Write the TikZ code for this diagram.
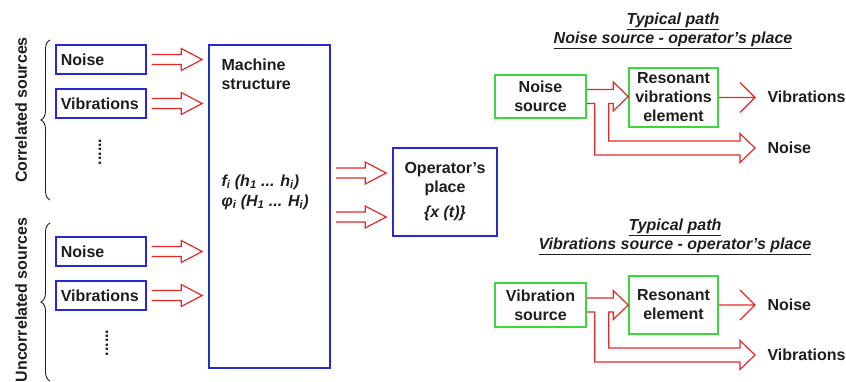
\documentclass[tikz,border=0pt]{standalone}
\usepackage{fontspec}
\setmainfont{Liberation Sans}
\usepackage{tikz}
\usetikzlibrary{positioning}
\usetikzlibrary{%
  calc,%
  decorations.pathreplacing%
}
\definecolor{srcblue}{RGB}{40,40,215}
\definecolor{srcgreen}{RGB}{60,215,60}
\definecolor{arrowred}{RGB}{230,40,40}
\definecolor{txt}{RGB}{30,30,30}
\tikzset{
  every node/.style={font=\bfseries\fontsize{16}{19}\selectfont, text=txt},
  src/.style={draw=srcblue, line width=1.6pt, anchor=west, align=left,
    text width=80pt, inner xsep=5pt, inner ysep=0pt, minimum height=29pt},
  blk/.style={draw=srcblue, line width=1.6pt},
  gbox/.style={draw=srcgreen, line width=1.6pt, align=center, inner sep=0pt},
  hollow/.style={draw=arrowred, line width=1.2pt, line join=miter},
  title/.style={align=center, font=\bfseries\itshape\fontsize{16}{19}\selectfont},
  brace/.style={decorate, decoration={brace, amplitude=9pt}, draw=txt, line width=0.9pt}
}
\newcommand{\hollowarrow}[2]{%
  \path #1 coordinate (ha-s) #2 coordinate (ha-e);
  \draw[hollow] ($(ha-s)+(0,-5)$) -- ($(ha-e)+(-21,-5)$) -- ($(ha-e)+(-21,-11)$) -- (ha-e)
    -- ($(ha-e)+(-21,11)$) -- ($(ha-e)+(-21,5)$) -- ($(ha-s)+(0,5)$);}
\newcommand{\forkarrow}[3]{%
  \path #1 coordinate (fk-s) #2 coordinate (fk-a) #3 coordinate (fk-b);
  \draw[hollow] ($(fk-s)+(0,-7)$) -- ($(fk-a)+(-15,-7)$) -- ($(fk-a)+(-15,-14.5)$) -- (fk-a)
    -- ($(fk-a)+(-15,14.5)$) -- ($(fk-a)+(-15,7)$) -- ($(fk-s)+(22,7)$)
    |- ($(fk-b)+(-15,-7)$) -- ($(fk-b)+(-15,-14.5)$) -- (fk-b)
    -- ($(fk-b)+(-15,14.5)$) -- ($(fk-b)+(-15,7)$) -| ($(fk-s)+(8,7)$) -- ($(fk-s)+(0,7)$);}
\newcommand{\barbarrow}[2]{%
  \path #1 coordinate (ba-s) #2 coordinate (ba-e);
  \draw[hollow] (ba-s) -- (ba-e) ($(ba-e)+(-15,-15)$) -- (ba-e) -- ($(ba-e)+(-15,15)$);}

\begin{document}
\begin{tikzpicture}[x=1pt, y=-1pt]
\useasboundingbox (0,0) rectangle (846,381);

\node[rotate=90, anchor=base] (corr) at (27,110) {Correlated sources};
\node[rotate=90, anchor=base] (uncorr) at (27,300) {Uncorrelated sources};
\draw[brace] (50,200) -- (50,40);
\draw[brace] (50,381) -- (50,223);

\node[src] (noiseC) at (55,59.5) {Noise};
\node[src] (vibC) at (55,103.5) {Vibrations};
\node[rotate=90] (dotsC) at (100,152) {......};
\node[src] (noiseU) at (55,251.5) {Noise};
\node[src] (vibU) at (55,295.5) {Vibrations};
\node[rotate=90] (dotsU) at (107,343) {......};

\node[blk, minimum width=121pt, minimum height=323pt] (machine) at (269.5,206.5) {};
\node[anchor=west, align=left] (mtitle) at (218,74) {Machine\\structure};
\node[anchor=west, align=left, font=\bfseries\itshape\fontsize{16}{20}\selectfont] (mfunc) at (218,192)
  {f\textsubscript{i} (h\textsubscript{1} ... h\textsubscript{i})\\φ\textsubscript{i} (H\textsubscript{1} ... H\textsubscript{i})};
\node[blk, align=center, inner sep=0pt, minimum width=104pt, minimum height=88pt] (operator) at (445,192)
  {Operator's\\place\\[6pt]{\itshape\{x (t)\}}};

\node[title] (path1) at (673,30.5) {\underline{Typical path}\\\underline{Noise source - operator's place}};
\node[gbox, minimum width=91pt, minimum height=43pt] (nsrc) at (540.5,96.5) {Noise\\source};
\node[gbox, minimum width=89pt, minimum height=59pt] (res1) at (673.5,97.5) {Resonant\\vibrations\\element};
\node[anchor=west] (vibout1) at (764,97) {Vibrations};
\node[anchor=west] (noiseout1) at (764,148) {Noise};

\node[title] (path2) at (675,236.5) {\underline{Typical path}\\\underline{Vibrations source - operator's place}};
\node[gbox, minimum width=91pt, minimum height=44pt] (vsrc) at (540.5,305) {Vibration\\source};
\node[gbox, minimum width=89pt, minimum height=58pt] (res2) at (673.5,305) {Resonant\\element};
\node[anchor=west] (noiseout2) at (764,305) {Noise};
\node[anchor=west] (vibout2) at (764,355) {Vibrations};

\hollowarrow{($(noiseC.east)+(5,0)$)}{($(machine.west|-noiseC.east)+(-6,0)$)}
\hollowarrow{($(vibC.east)+(5,0)$)}{($(machine.west|-vibC.east)+(-6,0)$)}
\hollowarrow{($(noiseU.east)+(5,0)$)}{($(machine.west|-noiseU.east)+(-6,0)$)}
\hollowarrow{($(vibU.east)+(5,0)$)}{($(machine.west|-vibU.east)+(-6,0)$)}
\hollowarrow{($(machine.east|-operator.west)+(5,-19)$)}{($(operator.west)+(-6,-19)$)}
\hollowarrow{($(machine.east|-operator.west)+(5,25)$)}{($(operator.west)+(-6,25)$)}

\forkarrow{(nsrc.east)}{(res1.west|-nsrc.east)}{($(noiseout1.west)+(-9,0)$)}
\forkarrow{(vsrc.east)}{(res2.west|-vsrc.east)}{($(vibout2.west)+(-9,0)$)}

\barbarrow{(res1.east)}{($(res1.east-|vibout1.west)+(-9,0)$)}
\barbarrow{(res2.east)}{($(res2.east-|noiseout2.west)+(-9,0)$)}
\end{tikzpicture}
\end{document}
